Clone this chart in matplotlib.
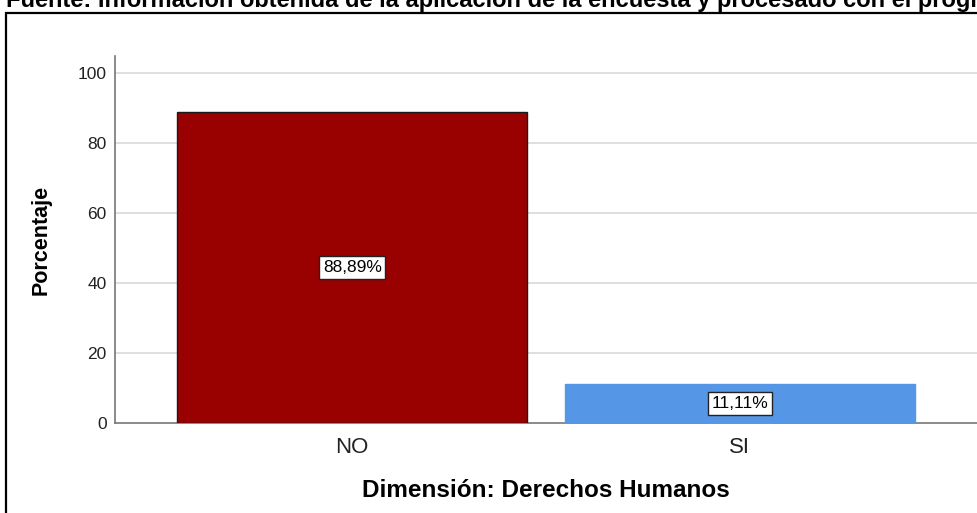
import matplotlib.pyplot as plt
from matplotlib.patches import Rectangle

plt.rcParams['font.family'] = ['Liberation Sans', 'DejaVu Sans']

# Datos
categorias = ["NO", "SI"]
porcentajes = [88.89, 11.11]
etiquetas = ["88,89%", "11,11%"]
colores = ["#990000", "#5596e6"]
bordes = ["#1a1a1a", "#5596e6"]
yticks = [0, 20, 40, 60, 80, 100]

fig = plt.figure(figsize=(9.77, 5.13), dpi=100)
W, H = 977, 513

# Marco negro (se corta a la derecha y abajo)
fig.patches.append(Rectangle((6 / W, -0.1), 1.2, 1 - 13 / H + 0.1, transform=fig.transFigure,
                             fill=False, edgecolor="black", linewidth=1.6))

# Texto "Fuente" cortado por arriba, como en la imagen original
fig.text(6 / W, 1 - 7 / H, "Fuente: Información obtenida de la aplicación de la encuesta y procesado con el programa SPSS",
         fontsize=17, fontweight="bold", va="baseline", ha="left")

ax = fig.add_axes([115 / W, (H - 423) / H, (W - 115) / W, (423 - 56) / H])
x = range(len(categorias))
ax.bar(x, porcentajes, width=0.903, color=colores, edgecolor=bordes, linewidth=1, zorder=3)

for i, (v, t) in enumerate(zip(porcentajes, etiquetas)):
    ax.text(i, v / 2, t, ha="center", va="center", fontsize=12.5, zorder=4,
            bbox=dict(boxstyle="square,pad=0.22", facecolor="white", edgecolor="#222222", linewidth=1))

ax.set_xlim(-0.612, 1.612)
ax.set_ylim(0, 104.9)
ax.set_yticks(yticks)
ax.set_xticks(list(x))
ax.set_xticklabels(categorias)
ax.tick_params(axis="y", length=0, pad=6, labelsize=12.5, labelcolor="#222222")
ax.tick_params(axis="x", length=0, pad=10, labelsize=16, labelcolor="#222222")

for yv in yticks[1:]:
    ax.axhline(yv, color="#d9d9d9", linewidth=1.2, zorder=1)

for s in ["top", "right"]:
    ax.spines[s].set_visible(False)
for s in ["left", "bottom"]:
    ax.spines[s].set_color("#777777")
    ax.spines[s].set_linewidth(1.2)

ax.set_ylabel("Porcentaje", fontsize=15.5, fontweight="bold", labelpad=19)
ax.set_xlabel("Dimensión: Derechos Humanos", fontsize=17.5, fontweight="bold", labelpad=15)

fig.savefig("out.png", dpi=100)
